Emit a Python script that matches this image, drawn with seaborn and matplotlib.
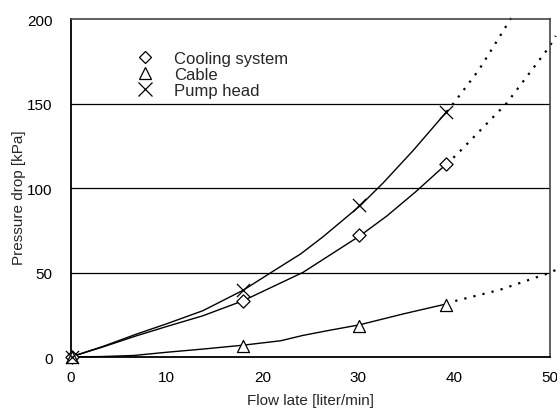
import matplotlib
matplotlib.use("Agg")
import matplotlib.pyplot as plt
from matplotlib.lines import Line2D
import seaborn as sns

sns.set_theme(style="white")
plt.rcParams["font.family"] = ["Liberation Sans", "DejaVu Sans"]

# Measured points
flow_pts = [0.2, 18.0, 30.1, 39.2]
cooling_pts = [0.0, 33.0, 72.0, 114.0]
cable_pts = [0.0, 6.5, 18.5, 31.0]
pump_pts = [0.0, 39.5, 90.0, 145.0]

# Fitted curves (solid) over the measured range
cooling_fit_x = [0.0, 3.4, 6.9, 10.0, 13.8, 18.0, 24.25, 30.2, 33.0, 36.0, 39.2]
cooling_fit_y = [0.0, 6.0, 12.6, 18.0, 24.4, 33.3, 50.1, 71.8, 83.5, 97.8, 114.2]
cable_fit_x = [0.0, 3.4, 6.6, 10.0, 14.0, 18.0, 21.9, 24.25, 27.0, 30.1, 34.7, 39.2]
cable_fit_y = [0.0, 0.3, 0.9, 2.8, 4.8, 7.0, 9.6, 12.8, 15.8, 19.0, 25.5, 31.4]
pump_fit_x = [0.0, 3.4, 6.9, 10.0, 13.8, 18.0, 21.5, 24.0, 26.3, 30.2, 32.6, 35.7, 39.2]
pump_fit_y = [0.0, 6.3, 13.6, 19.6, 27.4, 39.5, 52.1, 61.0, 71.0, 89.5, 103.0, 122.0, 145.0]

# Extrapolated parts (dotted)
cooling_ext_x = [39.2, 40.3, 45.5, 49.9, 50.6]
cooling_ext_y = [114.2, 119.9, 150.3, 183.3, 190.0]
cable_ext_x = [39.2, 40.0, 44.8, 49.9, 50.8]
cable_ext_y = [31.4, 33.0, 39.8, 49.7, 52.0]
pump_ext_x = [39.2, 40.0, 42.6, 44.8, 46.1]
pump_ext_y = [145.0, 150.5, 170.0, 190.0, 202.0]

x_ticks = [0, 10, 20, 30, 40, 50]
y_ticks = [0, 50, 100, 150, 200]

fig = plt.figure(figsize=(5.57, 4.10), dpi=100)
ax = fig.add_axes([0.1266, 0.1268, 0.8608, 0.8244])

for y in [50, 100, 150]:
    ax.axhline(y, color="black", lw=0.9, zorder=0)

for fx, fy in [(cooling_fit_x, cooling_fit_y), (cable_fit_x, cable_fit_y),
               (pump_fit_x, pump_fit_y)]:
    sns.lineplot(x=fx, y=fy, ax=ax, color="black", lw=1.0, sort=False,
                 estimator=None)

for ex, ey in [(cooling_ext_x, cooling_ext_y), (cable_ext_x, cable_ext_y),
               (pump_ext_x, pump_ext_y)]:
    sns.lineplot(x=ex, y=ey, ax=ax, color="black", lw=1.6, sort=False,
                 estimator=None, linestyle=(0, (1, 3.2)), clip_on=False)

sns.scatterplot(x=flow_pts, y=cooling_pts, ax=ax, marker="D", s=45,
                facecolor="white", edgecolor="black", linewidth=0.9, zorder=5,
                clip_on=False)
sns.scatterplot(x=flow_pts, y=cable_pts, ax=ax, marker="^", s=75,
                facecolor="white", edgecolor="black", linewidth=0.9, zorder=5,
                clip_on=False)
sns.scatterplot(x=flow_pts, y=pump_pts, ax=ax, marker="x", s=90,
                color="black", linewidth=0.9, zorder=6, clip_on=False)

ax.set_xlim(0, 50)
ax.set_ylim(0, 200)
ax.set_xticks(x_ticks)
ax.set_yticks(y_ticks)
ax.tick_params(axis="x", direction="in", length=4, width=0.8, pad=9,
               labelsize=11, colors="black")
ax.tick_params(axis="y", length=0, pad=13, labelsize=11, colors="black")
ax.set_xlabel("Flow late [liter/min]", fontsize=11)
ax.set_ylabel("Pressure drop [kPa]", fontsize=11)
ax.xaxis.set_label_coords(0.5, -0.106)
ax.yaxis.set_label_coords(-0.092, 0.473)

for side in ["left", "bottom"]:
    ax.spines[side].set_color("black")
    ax.spines[side].set_linewidth(1.3)
for side in ["top", "right"]:
    ax.spines[side].set_color("#444444")
    ax.spines[side].set_linewidth(1.2)

handles = [
    Line2D([], [], marker="D", ls="none", markersize=6.5, mfc="white",
           mec="black", mew=0.9),
    Line2D([], [], marker="^", ls="none", markersize=8.5, mfc="white",
           mec="black", mew=0.9),
    Line2D([], [], marker="x", ls="none", markersize=9.5, color="black",
           mew=0.9),
]
ax.legend(handles, ["Cooling system", "Cable", "Pump head"], loc="upper left",
          bbox_to_anchor=(0.125, 0.925), frameon=False, fontsize=12,
          handlelength=1.0, handletextpad=1.2, labelspacing=0.05,
          borderaxespad=0)

fig.savefig("out.png", dpi=100)
